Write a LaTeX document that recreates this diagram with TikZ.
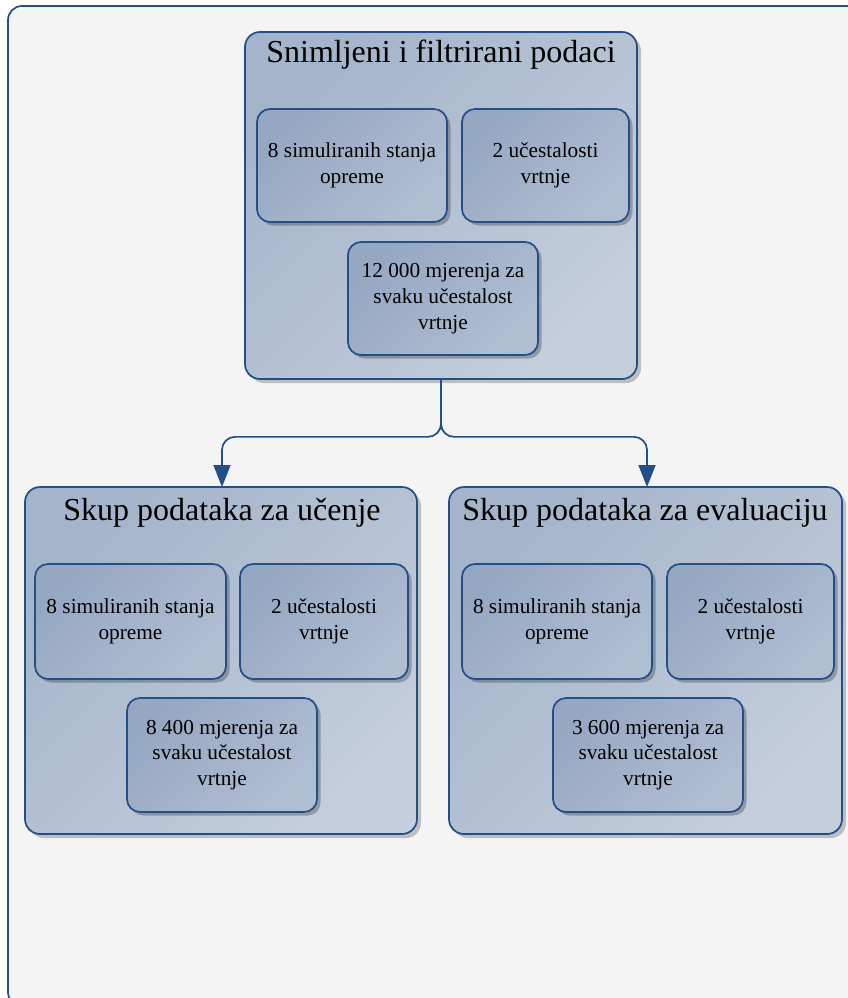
\documentclass[tikz,border=0pt]{standalone}
\usepackage{fontspec}
\setmainfont{Liberation Serif}
\usetikzlibrary{arrows.meta,shadows}
\definecolor{bord}{RGB}{36,78,138}
\definecolor{contA}{RGB}{164,180,202}
\definecolor{contB}{RGB}{196,206,220}
\definecolor{boxA}{RGB}{150,167,194}
\definecolor{boxB}{RGB}{176,190,210}
\definecolor{bgc}{RGB}{244,244,244}
\begin{document}
\begin{tikzpicture}[x=1pt,y=-1pt,
  frame/.style={draw=bord, line width=1.7pt, fill=bgc, rounded corners=14pt},
  container/.style={shape=rectangle, draw=bord, line width=1.7pt, rounded corners=15pt,
    top color=contA, bottom color=contB, shading angle=45, inner sep=0pt,
    minimum height=347pt,
    drop shadow={shadow xshift=4pt, shadow yshift=-4pt, fill=black, opacity=0.22}},
  inbox/.style={shape=rectangle, draw=bord, line width=1.7pt, rounded corners=13pt,
    top color=boxA, bottom color=boxB, shading angle=45, inner sep=0pt,
    minimum height=113pt, align=center,
    font=\fontsize{21.3}{25.8}\selectfont,
    drop shadow={shadow xshift=3.5pt, shadow yshift=-3.5pt, fill=black, opacity=0.25}},
  ctitle/.style={font=\fontsize{32}{38}\selectfont, inner sep=0pt},
  conn/.style={draw=bord, line width=1.7pt, rounded corners=13pt,
    -{Triangle[width=17pt,length=22pt]}}
]
\useasboundingbox (0,0) rectangle (848,998);
\draw[frame] (8,6) rectangle (866,1006);

% top container
\node[container, minimum width=392pt] (top) at (441,205.5) {};
\node[ctitle] (toptitle) at (441,55) {Snimljeni i filtrirani podaci};
\node[inbox, minimum width=190pt] (t1) at (352,165.5) {8 simuliranih stanja\\opreme};
\node[inbox, minimum width=167pt] (t2) at (545.5,165.5) {2 učestalosti\\vrtnje};
\node[inbox, minimum width=190pt] (t3) at (443,298.5) {12 000 mjerenja za\\svaku učestalost\\vrtnje};

% bottom-left container
\node[container, minimum width=392pt] (left) at (221,660.5) {};
\node[ctitle] (lefttitle) at (222,513) {Skup podataka za učenje};
\node[inbox, minimum width=191pt, minimum height=115pt] (l1) at (130.5,621.5) {8 simuliranih stanja\\opreme};
\node[inbox, minimum width=168pt, minimum height=115pt] (l2) at (324,621.5) {2 učestalosti\\vrtnje};
\node[inbox, minimum width=190pt, minimum height=114pt] (l3) at (222,755) {8 400 mjerenja za\\svaku učestalost\\vrtnje};

% bottom-right container
\node[container, minimum width=393pt] (right) at (645.5,660.5) {};
\node[ctitle] (righttitle) at (645,513) {Skup podataka za evaluaciju};
\node[inbox, minimum width=190pt, minimum height=115pt] (r1) at (557,621.5) {8 simuliranih stanja\\opreme};
\node[inbox, minimum width=167pt, minimum height=115pt] (r2) at (750.5,621.5) {2 učestalosti\\vrtnje};
\node[inbox, minimum width=190pt, minimum height=114pt] (r3) at (648,755) {3 600 mjerenja za\\svaku učestalost\\vrtnje};

% connectors
\coordinate (lt) at (222,487);
\coordinate (rt) at (647,487);
\draw[conn] (top.south) -- ++(0,57) -| (lt);
\draw[conn] (top.south) -- ++(0,57) -| (rt);
\end{tikzpicture}
\end{document}
